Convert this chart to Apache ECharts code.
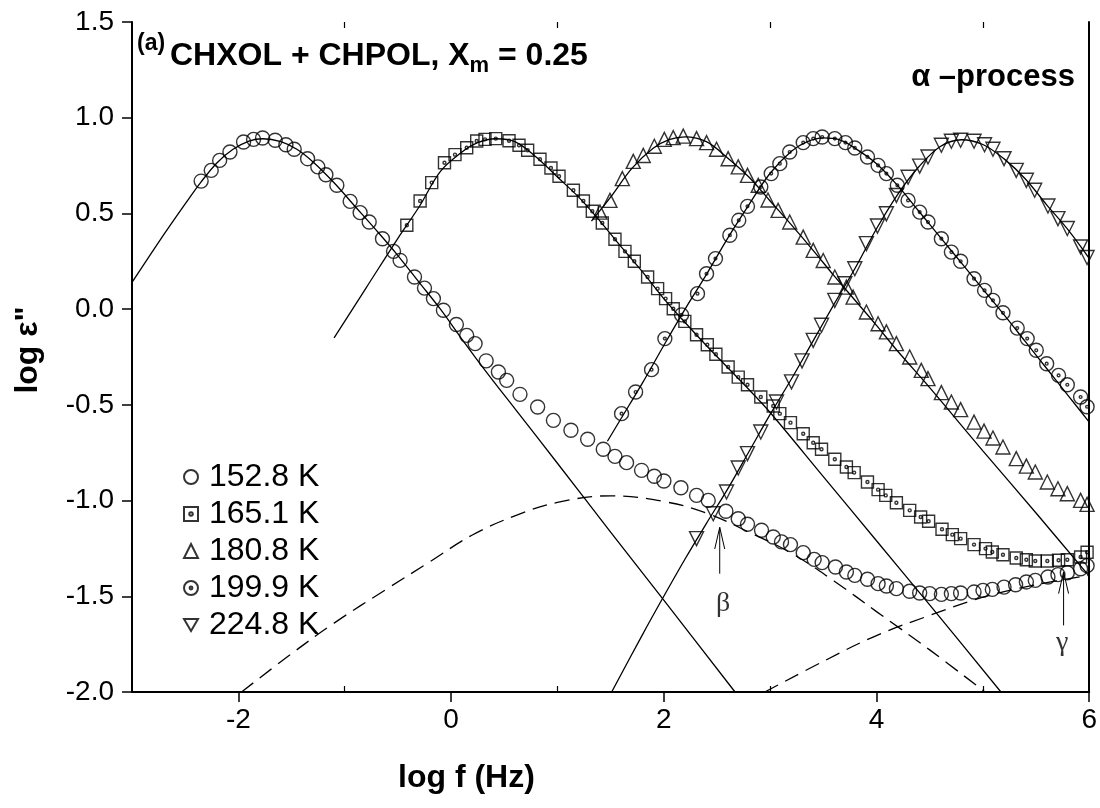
<!DOCTYPE html>
<html>
<head>
<meta charset="utf-8">
<script src="https://cdn.jsdelivr.net/npm/echarts@6/dist/echarts.min.js"></script>
<style>html,body{margin:0;padding:0;background:#fff}#c{width:1100px;height:808px}</style>
</head>
<body>
<div id="c"></div>
<script>
// ---------------- DATA ----------------
var seriesNames = ['152.8 K', '165.1 K', '180.8 K', '199.9 K', '224.8 K'];
var xTickLabels = [-2, 0, 2, 4, 6];
var xMinorTicks = [-1, 1, 3, 5];

var d152 = [[-2.35,0.669],[-2.255,0.725],[-2.176,0.777],[-2.079,0.821],[-1.951,0.873],[-1.857,0.887],[-1.772,0.894],[-1.654,0.882],[-1.553,0.859],[-1.475,0.835],[-1.349,0.786],[-1.253,0.743],[-1.177,0.702],[-1.074,0.647],[-0.949,0.563],[-0.855,0.504],[-0.770,0.455],[-0.645,0.368],[-0.541,0.302],[-0.479,0.255],[-0.344,0.168],[-0.250,0.110],[-0.166,0.055],[-0.072,-0.006],[0.05,-0.08],[0.147,-0.137],[0.226,-0.180],[0.33,-0.27],[0.445,-0.328],[0.523,-0.372],[0.648,-0.445],[0.814,-0.511],[0.962,-0.581],[1.127,-0.633],[1.284,-0.680],[1.431,-0.732],[1.541,-0.769],[1.650,-0.802],[1.791,-0.842],[1.911,-0.873],[2.001,-0.898],[2.161,-0.933],[2.308,-0.973],[2.418,-0.999],[2.584,-1.056],[2.700,-1.095],[2.787,-1.124],[2.919,-1.155],[3.029,-1.190],[3.107,-1.216],[3.191,-1.230],[3.311,-1.272],[3.414,-1.307],[3.489,-1.324],[3.614,-1.347],[3.717,-1.373],[3.796,-1.391],[3.915,-1.411],[4.015,-1.434],[4.093,-1.446],[4.187,-1.460],[4.312,-1.474],[4.406,-1.483],[4.500,-1.486],[4.610,-1.490],[4.704,-1.486],[4.791,-1.483],[4.917,-1.478],[5.001,-1.469],[5.089,-1.464],[5.199,-1.452],[5.308,-1.440],[5.409,-1.425],[5.493,-1.417],[5.612,-1.399],[5.706,-1.387],[5.794,-1.377],[5.919,-1.356],[5.98,-1.34]];

var d165 = [[-0.416,0.438],[-0.291,0.565],[-0.182,0.661],[-0.062,0.765],[0.037,0.807],[0.147,0.843],[0.241,0.878],[0.319,0.887],[0.420,0.891],[0.545,0.880],[0.639,0.856],[0.720,0.830],[0.836,0.783],[0.939,0.737],[1.015,0.694],[1.150,0.621],[1.244,0.565],[1.328,0.511],[1.422,0.450],[1.541,0.365],[1.635,0.302],[1.723,0.250],[1.848,0.168],[1.942,0.107],[2.017,0.055],[2.089,0.002],[2.198,-0.064],[2.308,-0.134],[2.409,-0.186],[2.490,-0.236],[2.605,-0.302],[2.700,-0.355],[2.787,-0.395],[2.912,-0.459],[3.029,-0.506],[3.091,-0.546],[3.191,-0.593],[3.311,-0.651],[3.405,-0.698],[3.483,-0.732],[3.608,-0.784],[3.717,-0.825],[3.790,-0.854],[3.915,-0.903],[4.015,-0.943],[4.087,-0.973],[4.187,-1.011],[4.312,-1.051],[4.415,-1.086],[4.490,-1.108],[4.616,-1.150],[4.713,-1.178],[4.791,-1.199],[4.917,-1.230],[5.025,-1.251],[5.089,-1.269],[5.189,-1.283],[5.314,-1.300],[5.409,-1.309],[5.493,-1.316],[5.606,-1.316],[5.712,-1.312],[5.794,-1.309],[5.919,-1.295],[5.98,-1.27]];

var d180 = [[1.400,0.507],[1.494,0.568],[1.610,0.682],[1.713,0.772],[1.807,0.803],[1.911,0.851],[2.005,0.887],[2.089,0.896],[2.183,0.904],[2.308,0.891],[2.402,0.870],[2.496,0.835],[2.605,0.786],[2.700,0.743],[2.787,0.699],[2.888,0.647],[2.98,0.57],[3.075,0.516],[3.184,0.455],[3.311,0.376],[3.405,0.307],[3.499,0.254],[3.608,0.168],[3.717,0.115],[3.780,0.063],[3.905,-0.015],[4.015,-0.076],[4.093,-0.119],[4.187,-0.180],[4.312,-0.250],[4.421,-0.320],[4.484,-0.363],[4.610,-0.436],[4.704,-0.485],[4.791,-0.525],[4.917,-0.590],[5.011,-0.637],[5.095,-0.673],[5.189,-0.720],[5.314,-0.781],[5.409,-0.820],[5.493,-0.851],[5.606,-0.903],[5.706,-0.938],[5.794,-0.964],[5.919,-0.999],[5.98,-1.02]];

var d199 = [[1.603,-0.546],[1.735,-0.433],[1.885,-0.316],[2.010,-0.154],[2.167,-0.03],[2.317,0.081],[2.402,0.185],[2.486,0.264],[2.621,0.386],[2.705,0.464],[2.787,0.537],[2.912,0.638],[3.01,0.708],[3.091,0.760],[3.184,0.821],[3.311,0.870],[3.405,0.891],[3.489,0.899],[3.608,0.891],[3.708,0.870],[3.796,0.842],[3.915,0.795],[4.015,0.751],[4.093,0.708],[4.196,0.647],[4.297,0.568],[4.406,0.507],[4.484,0.455],[4.610,0.368],[4.704,0.298],[4.791,0.250],[4.917,0.159],[5.016,0.098],[5.095,0.046],[5.189,-0.019],[5.323,-0.099],[5.417,-0.154],[5.502,-0.215],[5.60,-0.285],[5.712,-0.346],[5.794,-0.395],[5.919,-0.459],[5.98,-0.51]];

var d224 = [[2.308,-1.199],[2.465,-1.069],[2.590,-0.955],[2.700,-0.830],[2.787,-0.755],[2.912,-0.642],[3.060,-0.485],[3.201,-0.380],[3.30,-0.27],[3.405,-0.163],[3.483,-0.084],[3.608,0.046],[3.702,0.133],[3.796,0.211],[3.905,0.342],[4.009,0.434],[4.093,0.498],[4.187,0.594],[4.297,0.689],[4.406,0.747],[4.484,0.795],[4.610,0.856],[4.704,0.877],[4.791,0.882],[4.917,0.877],[5.016,0.859],[5.095,0.835],[5.199,0.786],[5.314,0.725],[5.409,0.673],[5.487,0.621],[5.612,0.539],[5.706,0.473],[5.794,0.421],[5.919,0.325],[5.98,0.27]];

// fitted alpha-process curves (solid)
var fit152 = [[-3,0.14],[-2.7,0.39],[-2.5,0.55],[-2.35,0.665],[-2.2,0.765],[-2.05,0.835],[-1.9,0.878],[-1.77,0.89],[-1.6,0.875],[-1.45,0.835],[-1.3,0.77],[-1.1,0.66],[-0.9,0.535],[-0.7,0.41],[-0.5,0.28],[-0.3,0.14],[-0.1,0.0],[0.1,-0.155],[0.3,-0.305],[0.6,-0.52],[1.0,-0.805],[1.5,-1.165],[2.0,-1.52],[2.67,-2.0]];
var fit165 = [[-1.1,-0.15],[-0.8,0.11],[-0.5,0.37],[-0.3,0.535],[-0.1,0.72],[0.1,0.82],[0.25,0.87],[0.42,0.89],[0.6,0.875],[0.8,0.795],[1.0,0.69],[1.2,0.585],[1.4,0.46],[1.6,0.325],[1.8,0.195],[2.0,0.055],[2.2,-0.07],[2.4,-0.19],[2.6,-0.305],[2.8,-0.42],[3.0,-0.54],[3.5,-0.875],[4.0,-1.21],[4.5,-1.545],[5.17,-2.0]];
var fit180 = [[1.32,0.46],[1.5,0.585],[1.7,0.735],[1.9,0.84],[2.05,0.885],[2.2,0.9],[2.4,0.875],[2.6,0.79],[2.8,0.69],[3.0,0.565],[3.2,0.44],[3.4,0.31],[3.6,0.175],[3.8,0.045],[4.0,-0.085],[4.2,-0.22],[4.5,-0.41],[5.0,-0.74],[5.5,-1.065],[6.0,-1.395]];
var fit199 = [[1.47,-0.69],[1.6,-0.57],[1.8,-0.385],[2.0,-0.19],[2.2,0.0],[2.4,0.18],[2.6,0.37],[2.8,0.545],[3.0,0.71],[3.2,0.825],[3.35,0.875],[3.5,0.895],[3.65,0.885],[3.8,0.84],[4.0,0.76],[4.2,0.645],[4.4,0.51],[4.6,0.375],[4.8,0.24],[5.0,0.105],[5.2,-0.03],[5.4,-0.17],[5.6,-0.31],[5.8,-0.45],[6.0,-0.59]];
var fit224 = [[1.51,-2.0],[1.8,-1.7],[2.0,-1.5],[2.2,-1.305],[2.4,-1.12],[2.6,-0.94],[2.8,-0.745],[3.0,-0.55],[3.2,-0.365],[3.4,-0.17],[3.6,0.025],[3.8,0.215],[4.0,0.42],[4.2,0.6],[4.4,0.745],[4.6,0.85],[4.8,0.885],[5.0,0.86],[5.2,0.785],[5.4,0.68],[5.6,0.545],[5.8,0.415],[6.0,0.265]];

// secondary processes at 152.8 K (dashed)
var betaFit = [[-1.97,-2.0],[-1.5,-1.8],[-1.1,-1.64],[-0.6,-1.46],[-0.2,-1.32],[0.2,-1.18],[0.6,-1.08],[1.0,-1.01],[1.5,-0.975],[2.0,-1.005],[2.4,-1.065],[2.8,-1.165],[3.2,-1.275],[3.6,-1.42],[4.0,-1.58],[4.5,-1.78],[5.02,-2.0]];
var gammaFit = [[2.95,-2.0],[3.5,-1.84],[4.0,-1.705],[4.5,-1.6],[5.0,-1.505],[5.5,-1.44],[6.0,-1.39]];

// annotation arrows and labels
var betaArrow = [[2.526,-1.382],[2.526,-1.14]];
var betaHead = [[2.479,-1.253],[2.526,-1.14],[2.573,-1.253]];
var gammaArrow = [[5.759,-1.652],[5.759,-1.373]];
var gammaHead = [[5.712,-1.486],[5.759,-1.373],[5.806,-1.486]];
var greekLabels = [[2.558,-1.54,'β'],[5.745,-1.74,'γ']];

// ---------------- CHART ----------------
var FONT = '"Liberation Sans", Arial, Helvetica, sans-serif';
var SYM_DOT_CIRCLE = 'path://M20,10 A10,10 0 1 1 0,10 A10,10 0 1 1 20,10 Z M12,10 A2,2 0 1 1 8,10 A2,2 0 1 1 12,10 Z';
var SYM_DOT_SQUARE = 'path://M0,0 L20,0 L20,20 L0,20 Z M12.5,10 A2.5,2.5 0 1 1 7.5,10 A2.5,2.5 0 1 1 12.5,10 Z';
var SYM_TRI_DOWN = 'path://M0,0 L20,0 L10,17.3 Z';

var markerStyle = {color: 'rgba(0,0,0,0)', borderColor: '#000', borderWidth: 1.4};
var symbols = ['circle', SYM_DOT_SQUARE, 'triangle', SYM_DOT_CIRCLE, SYM_TRI_DOWN];
var sizes = [14, 12, 14, 14, 14];
var datasets = [d152, d165, d180, d199, d224];
var fits = [fit152, fit165, fit180, fit199, fit224];

var series = [];
fits.forEach(function (f) {
  series.push({type: 'line', data: f, showSymbol: false, smooth: 0.35, silent: true,
    lineStyle: {color: '#000', width: 1.3}, z: 2});
});
[betaFit, gammaFit].forEach(function (f) {
  series.push({type: 'line', data: f, showSymbol: false, smooth: 0.4, silent: true,
    lineStyle: {color: '#000', width: 1.3, type: [15, 8]}, z: 2});
});
[betaArrow, betaHead, gammaArrow, gammaHead].forEach(function (f) {
  series.push({type: 'line', data: f, showSymbol: false, silent: true,
    lineStyle: {color: '#000', width: 1}, z: 2});
});
datasets.forEach(function (d, i) {
  series.push({type: 'scatter', name: seriesNames[i], data: d, symbol: symbols[i],
    symbolSize: sizes[i], itemStyle: markerStyle, z: 3});
});
series.push({type: 'scatter', data: greekLabels.map(function (g) { return [g[0], g[1], g[2]]; }),
  symbolSize: 0, silent: true,
  label: {show: true, position: 'inside', formatter: function (p) { return p.value[2]; },
    fontFamily: '"Liberation Serif", "DejaVu Serif", serif', fontSize: 28, color: '#000'}});

var option = {
  animation: false,
  backgroundColor: '#fff',
  grid: {left: 132, right: 10, top: 22, bottom: 116, containLabel: false},
  xAxis: [
    {type: 'value', min: -3, max: 6, interval: 1, position: 'bottom',
      axisLine: {show: true, onZero: false, lineStyle: {color: '#000', width: 2}},
      axisTick: {show: true, inside: false, length: 10, customValues: xTickLabels, lineStyle: {color: '#000', width: 1.5}},
      axisLabel: {show: true, customValues: xTickLabels, margin: 14, fontSize: 28, color: '#000', fontFamily: FONT},
      splitLine: {show: false}},
    {type: 'value', min: -3, max: 6, interval: 1, position: 'bottom',
      axisLine: {show: false, onZero: false},
      axisTick: {show: true, inside: true, length: 6, customValues: xMinorTicks, lineStyle: {color: '#000', width: 1.2}},
      axisLabel: {show: false}, splitLine: {show: false}},
    {type: 'value', min: -3, max: 6, interval: 1, position: 'top',
      axisLine: {show: false, onZero: false},
      axisTick: {show: true, inside: true, length: 6, customValues: xMinorTicks, lineStyle: {color: '#000', width: 1.2}},
      axisLabel: {show: false}, splitLine: {show: false}}
  ],
  yAxis: [
    {type: 'value', min: -2, max: 1.5, interval: 0.5, position: 'left',
      axisLine: {show: true, onZero: false, lineStyle: {color: '#000', width: 2}},
      axisTick: {show: true, inside: false, length: 10, lineStyle: {color: '#000', width: 1.5}},
      axisLabel: {margin: 18, fontSize: 28, color: '#000', fontFamily: FONT,
        formatter: function (v) { return v.toFixed(1); }},
      splitLine: {show: false}},
    {type: 'value', min: -2, max: 1.5, interval: 0.5, position: 'right',
      axisLine: {show: true, onZero: false, lineStyle: {color: '#000', width: 2}},
      axisTick: {show: false}, axisLabel: {show: false}, splitLine: {show: false}}
  ],
  legend: {
    show: true, orient: 'vertical', left: 178, top: 456,
    itemWidth: 14, itemHeight: 14, itemGap: 5,
    data: seriesNames,
    textStyle: {fontSize: 32, lineHeight: 31, color: '#000', fontFamily: FONT, padding: [0, 0, 0, 6]},
    selectedMode: false
  },
  graphic: [
    {type: 'text', left: 137, top: 32, style: {text: '(a)', fontSize: 23, fontWeight: 'bold', fill: '#000', fontFamily: FONT}},
    {type: 'text', left: 170, top: 40, style: {
      text: '{a|CHXOL + CHPOL, X}{m|m}{a| = 0.25}', fill: '#000',
      rich: {
        a: {fontSize: 32, fontWeight: 'bold', fontFamily: FONT, verticalAlign: 'top', lineHeight: 36},
        m: {fontSize: 22, fontWeight: 'bold', fontFamily: FONT, verticalAlign: 'top', lineHeight: 36, padding: [15, 0, 0, 0]}
      }}},
    {type: 'text', right: 25, top: 62, style: {text: 'α –process', fontSize: 31, fontWeight: 'bold', fill: '#000', fontFamily: FONT}},
    {type: 'text', left: 398, top: 762, style: {text: 'log f (Hz)', fontSize: 32, fontWeight: 'bold', fill: '#000', fontFamily: FONT}},
    {type: 'text', x: 28, y: 350, rotation: Math.PI / 2,
      style: {text: 'log ε"', fontSize: 32, fontWeight: 'bold', fill: '#000', fontFamily: FONT, align: 'center', verticalAlign: 'middle'}}
  ],
  series: series
};

var chart = echarts.init(document.getElementById('c'), null, {renderer: 'canvas'});
chart.setOption(option);
</script>
</body>
</html>
